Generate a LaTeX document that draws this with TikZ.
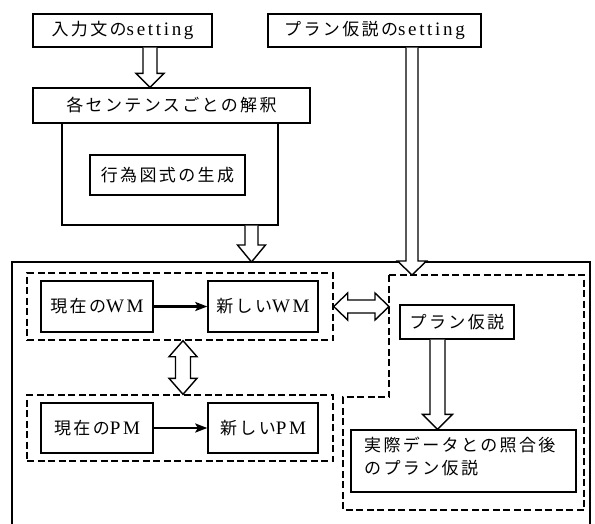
\documentclass[tikz,border=0pt]{standalone}
\usepackage{fontspec}
\setmainfont[LetterSpace=14,Scale=1.12]{Liberation Serif}
\newfontfamily\jp[LetterSpace=14]{Noto Sans CJK JP}
\usetikzlibrary{arrows.meta,calc}

% hollow block arrow pointing down: x and top from #1, tip at the height of #2
% #3 half shaft width, #4 half head width, #5 head length (pt)
\newcommand\blkdown[5]{%
  \draw[blockarrow] let \p1=(#1), \p2=(#2) in
    (\x1-#3pt,\y1) -- (\x1-#3pt,\y2+#5pt) -- (\x1-#4pt,\y2+#5pt) -- (\x1,\y2)
    -- (\x1+#4pt,\y2+#5pt) -- (\x1+#3pt,\y2+#5pt) -- (\x1+#3pt,\y1);}
% hollow double-headed block arrow, vertical
\newcommand\blkvert[5]{%
  \draw[blockarrow] let \p1=(#1), \p2=(#2) in
    (\x1,\y1) -- (\x1+#4pt,\y1-#5pt) -- (\x1+#3pt,\y1-#5pt) -- (\x1+#3pt,\y2+#5pt)
    -- (\x1+#4pt,\y2+#5pt) -- (\x1,\y2) -- (\x1-#4pt,\y2+#5pt) -- (\x1-#3pt,\y2+#5pt)
    -- (\x1-#3pt,\y1-#5pt) -- (\x1-#4pt,\y1-#5pt) -- cycle;}
% hollow double-headed block arrow, horizontal
\newcommand\blkhorz[5]{%
  \draw[blockarrow] let \p1=(#1), \p2=(#2) in
    (\x1,\y1) -- (\x1+#5pt,\y1+#4pt) -- (\x1+#5pt,\y1+#3pt) -- (\x2-#5pt,\y1+#3pt)
    -- (\x2-#5pt,\y1+#4pt) -- (\x2,\y1) -- (\x2-#5pt,\y1-#4pt) -- (\x2-#5pt,\y1-#3pt)
    -- (\x1+#5pt,\y1-#3pt) -- (\x1+#5pt,\y1-#4pt) -- cycle;}

\begin{document}
\begin{tikzpicture}[x=1pt,y=-1pt,
  every node/.style={font=\fontsize{17}{23}\selectfont},
  box/.style={draw,line width=1.4pt,inner sep=0pt,anchor=center},
  group/.style={draw,line width=1.4pt,dash pattern=on 7pt off 3.5pt,inner sep=0pt,anchor=center},
  blockarrow/.style={draw,line width=1.4pt,fill=white,line join=miter},
  flow/.style={line width=2.2pt,-{Stealth[length=12pt,width=9pt,inset=2.5pt]}}]
\useasboundingbox (0,0) rectangle (595,523);

% setting boxes at the top
\node[box,minimum width=179pt,minimum height=33pt] (inset) at (122.5,30.5) {{\jp 入力文の}setting};
\node[box,minimum width=213pt,minimum height=33pt] (planset) at (374.5,30.5) {{\jp プラン仮説の}setting};

% sentence-by-sentence interpretation
\node[box,minimum width=277pt,minimum height=35pt] (parse) at (171.5,105.5) {\jp 各センテンスごとの解釈};
\node[box,minimum width=216pt,minimum height=102pt] (genframe) at (170,174) {};
\node[box,minimum width=155pt,minimum height=40pt] (gen) at (167.5,175) {\jp 行為図式の生成};

% outer frame, open at the bottom
\coordinate (fsw) at (12,530);
\coordinate (fne) at (590,262);
\draw[line width=1.4pt] (fsw) |- (fne) -- (fne |- fsw);

% working memory / plan memory groups
\node[group,minimum width=306pt,minimum height=67pt] (wmg) at (180,306.5) {};
\node[box,minimum width=112pt,minimum height=51pt] (curwm) at (97,306.5) {{\jp 現在の}WM};
\node[box,minimum width=110pt,minimum height=51pt] (newwm) at (263,306.5) {{\jp 新しい}WM};
\node[group,minimum width=306pt,minimum height=66pt] (pmg) at (180,428) {};
\node[box,minimum width=112pt,minimum height=50pt] (curpm) at (97,428) {{\jp 現在の}PM};
\node[box,minimum width=110pt,minimum height=50pt] (newpm) at (263,428) {{\jp 新しい}PM};

% plan hypothesis region
\coordinate (r1) at (389,275);
\coordinate (r2) at (584,275);
\coordinate (r3) at (584,510);
\coordinate (r4) at (343,510);
\coordinate (r5) at (343,397);
\coordinate (r6) at (389,397);
\draw[line width=1.4pt,dash pattern=on 7pt off 3.5pt] (r1) -- (r2) -- (r3) -- (r4) -- (r5) -- (r6) -- cycle;
\node[box,minimum width=114pt,minimum height=34pt] (planh) at (457,322) {\jp プラン仮説};
\node[box,minimum width=225pt,minimum height=62pt] (actual) at (463.5,461) {};
\node[anchor=west,align=left,inner sep=0pt] (actualtext) at (364,456)
  {\jp 実際データとの照合後\\\jp のプラン仮説};

% flows
\draw[flow] (curwm) -- (newwm);
\draw[flow] (curpm) -- (newpm);
\blkdown{[xshift=27.5pt]inset.south}{parse.north}{7}{14}{14}
\blkdown{[xshift=81.5pt]genframe.south}{fne}{6.5}{14}{17}
\blkdown{[xshift=37.5pt]planset.south}{r1}{6}{14.5}{14}
\blkdown{[xshift=-19.5pt]planh.south}{actual.north}{7.5}{15}{15}
\blkhorz{wmg.east}{wmg.east -| r1}{6.5}{13.5}{14}
\blkvert{[xshift=3pt]wmg.south}{pmg.north}{7.5}{14}{16}
\end{tikzpicture}
\end{document}
